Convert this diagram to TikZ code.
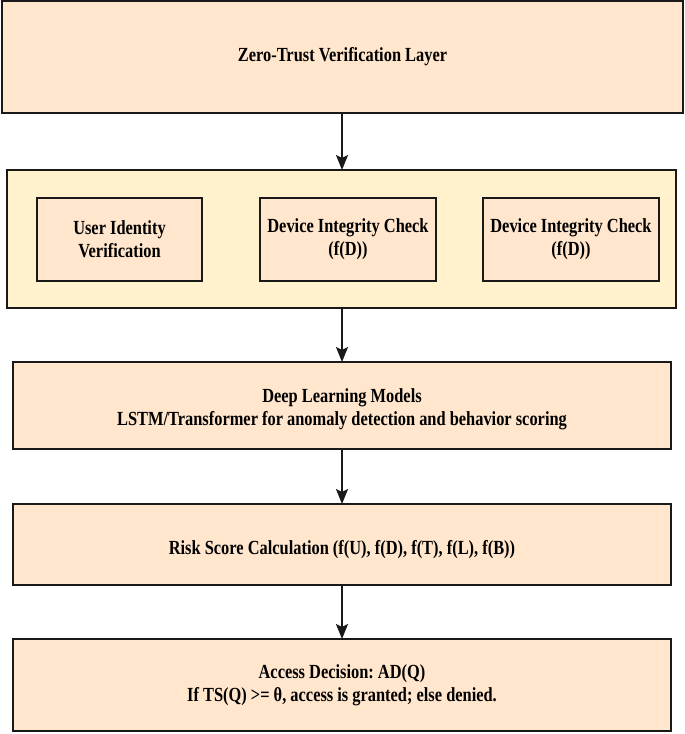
\documentclass[tikz,border=0pt]{standalone}
\usepackage{fontspec}
\setmainfont[FakeStretch=0.82]{Liberation Serif}
\usetikzlibrary{arrows.meta,shadows}
\definecolor{peach}{HTML}{FFE6CC}
\definecolor{cream}{HTML}{FFF2CC}
\definecolor{shade}{HTML}{9A9A9A}
\frenchspacing
\begin{document}
\begin{tikzpicture}[x=1pt,y=-1pt,
  box/.style={draw=black!90, line width=1.8pt, fill=peach, rectangle, inner sep=0pt, outer sep=0pt,
    align=center, font=\frenchspacing\bfseries\fontsize{20}{23}\selectfont,
    drop shadow={shadow xshift=1.2pt, shadow yshift=-1.4pt, fill=shade, opacity=0.8}},
  group/.style={box, fill=cream},
  label/.style={align=center, inner sep=0pt, font=\frenchspacing\bfseries\fontsize{20}{23}\selectfont},
  flow/.style={draw=black!90, line width=1.8pt, -{Stealth[length=15pt,width=12pt,inset=3pt]}}]
\useasboundingbox (0,0) rectangle (685,734);
\fill[white] (0,0) rectangle (685,734);
\node[box, minimum width=681pt, minimum height=112pt] (b1) at (342.5,57) {Zero-Trust Verification Layer};
\node[group, minimum width=669pt, minimum height=138pt] (b2) at (341.5,239) {};
\node[box, minimum width=165pt, minimum height=83pt] (u) at (119.5,239.5) {User Identity\\Verification};
\node[box, minimum width=176pt, minimum height=83pt] (d1) at (348,239.5) {Device Integrity Check\\(f(D))};
\node[box, minimum width=176pt, minimum height=83pt] (d2) at (571,239.5) {Device Integrity Check\\(f(D))};
\node[box, minimum width=658pt, minimum height=87pt] (b3) at (342,405.5) {};
\node[label] (t3) at ([yshift=-4pt]b3.center) {Deep Learning Models\\LSTM/Transformer for anomaly detection and behavior scoring};
\node[box, minimum width=658pt, minimum height=81pt] (b4) at (342,544.5) {};
\node[label] (t4) at ([yshift=-5pt]b4.center) {Risk Score Calculation (f(U), f(D), f(T), f(L), f(B))};
\node[box, minimum width=658pt, minimum height=92pt] (b5) at (342,685) {Access Decision: AD(Q)\\If TS(Q) >= θ, access is granted; else denied.};
\draw[flow] (b1.south -| 342,0) -- (b2.north -| 342,0);
\draw[flow] (b2.south -| 342,0) -- (b3.north -| 342,0);
\draw[flow] (b3.south -| 342,0) -- (b4.north -| 342,0);
\draw[flow] (b4.south -| 342,0) -- (b5.north -| 342,0);
\end{tikzpicture}
\end{document}
